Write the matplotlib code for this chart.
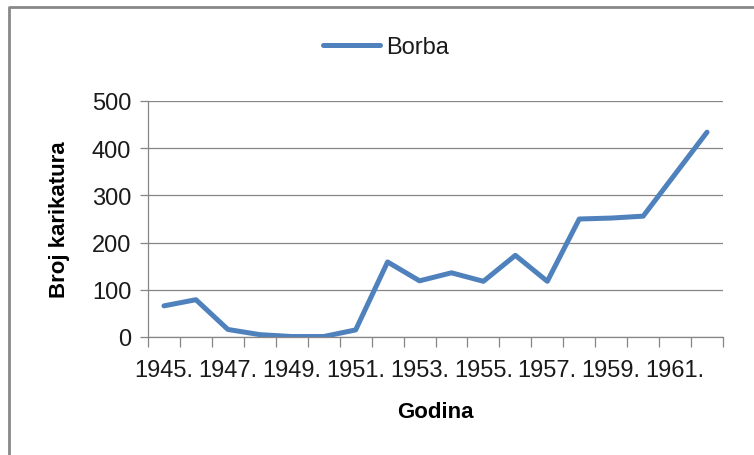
import numpy as np
import matplotlib
matplotlib.use('Agg')
import matplotlib.pyplot as plt
from matplotlib.lines import Line2D

plt.rcParams['font.family'] = ['Liberation Sans', 'DejaVu Sans']

godine = ['1945.', '1946.', '1947.', '1948.', '1949.', '1950.', '1951.', '1952.', '1953.',
          '1954.', '1955.', '1956.', '1957.', '1958.', '1959.', '1960.', '1961.', '1962.']
borba = [66, 79, 16, 5, 1, 1, 15, 159, 119, 136, 118, 173, 118, 250, 252, 256, 345, 434]

siva = '#868686'
plava = '#4F81BD'

fig = plt.figure(figsize=(7.54, 4.56), dpi=100)
ax = fig.add_axes([148/754, 1-338/456, (723-148)/754, (338-102)/456])

x = np.arange(len(godine))
ax.plot(x, borba, color=plava, linewidth=3.6, label='Borba',
        solid_joinstyle='round', solid_capstyle='round')

ax.set_xlim(-0.5, len(godine) - 0.5)
ax.set_ylim(0, 500)
ax.set_yticks([0, 100, 200, 300, 400, 500])
ax.yaxis.grid(True, color=siva, linewidth=0.9)
ax.set_axisbelow(True)

# tick marks between categories, labels every other year
ax.set_xticks(np.arange(-0.5, len(godine)), minor=True)
ax.set_xticks(x[::2])
ax.set_xticklabels(godine[::2])
ax.tick_params(axis='x', which='minor', length=7, color=siva, width=0.9)
ax.tick_params(axis='x', which='major', length=0, pad=16, labelsize=17, labelcolor='#1a1a1a')
ax.tick_params(axis='y', length=6, color=siva, width=0.9, pad=6, labelsize=17, labelcolor='#1a1a1a')

for s in ['top', 'right']:
    ax.spines[s].set_visible(False)
for s in ['left', 'bottom']:
    ax.spines[s].set_color(siva)
    ax.spines[s].set_linewidth(0.9)

fig.text(435/754, 1-413/456, 'Godina', ha='center', va='center', fontsize=16, fontweight='bold')
fig.text(60/754, 1-220/456, 'Broj karikatura', ha='center', va='center', rotation=90,
         fontsize=16, fontweight='bold')

fig.legend(loc='center', bbox_to_anchor=(386/754, 1-48/456), frameon=False, fontsize=17,
           handlelength=2.4, handletextpad=0.25, labelcolor='#1a1a1a')

# chart border
fig.add_artist(Line2D([9/754, 9/754, 1.0], [0.0, 1-8/456, 1-8/456],
                      transform=fig.transFigure, color='#888888', linewidth=2))

fig.savefig('out.png', dpi=100)
